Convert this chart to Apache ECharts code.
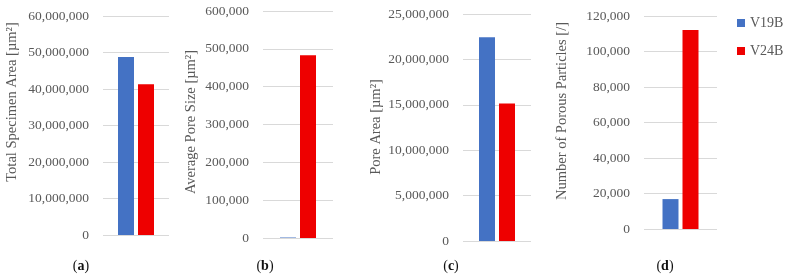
<!DOCTYPE html>
<html>
<head>
<meta charset="utf-8">
<script src="https://cdn.jsdelivr.net/npm/echarts@6/dist/echarts.min.js"></script>
<style>
  html, body { margin: 0; padding: 0; background: #fff; }
  #chart { width: 787px; height: 275px; }
</style>
</head>
<body>
<div id="chart"></div>
<script>
const seriesNames = ["V19B", "V24B"];
const colors = ["#4472C4", "#EE0000"];

const totalSpecimenArea = [48800000, 41300000];
const averagePoreSize = [1320, 483000];
const poreArea = [22450000, 15150000];
const porousParticles = [16850, 112100];

const axisTitles = [
  "Total Specimen Area [µm²]",
  "Average Pore Size [µm²]",
  "Pore Area [µm²]",
  "Number of Porous Particles [/]",
];
const panelLabels = ["a", "b", "c", "d"];
const axisMax = [60000000, 600000, 25000000, 120000];
const axisStep = [10000000, 100000, 5000000, 20000];

const panels = [totalSpecimenArea, averagePoreSize, poreArea, porousParticles];

// plot boxes
const grids = [
  { left: 103, top: 16, width: 66, height: 219 },
  { left: 263, top: 11, width: 70, height: 227 },
  { left: 463, top: 14, width: 68, height: 227 },
  { left: 644, top: 16, width: 73, height: 213 },
];
const titlePos = [[12, 102], [191, 122], [376, 127], [562, 111]];
const labelPos = [81, 265, 451, 665];

const font = "Liberation Serif";
const grey = "#595959";

const chart = echarts.init(document.getElementById("chart"));

const series = [];
panels.forEach((vals, i) => {
  seriesNames.forEach((name, j) => {
    series.push({
      name,
      type: "bar",
      xAxisIndex: i,
      yAxisIndex: i,
      data: [vals[j]],
      barWidth: 16,
      barGap: "25%",
      itemStyle: { color: colors[j] },
      animation: false,
    });
  });
});

const graphic = [];
axisTitles.forEach((t, i) => {
  graphic.push({
    type: "text",
    x: titlePos[i][0],
    y: titlePos[i][1],
    rotation: Math.PI / 2,
    style: {
      text: t,
      fill: grey,
      font: `14.5px "${font}"`,
      align: "center",
      verticalAlign: "middle",
      textAlign: "center",
      textVerticalAlign: "middle",
    },
  });
  graphic.push({
    type: "text",
    x: labelPos[i],
    y: 266,
    style: {
      text: `(${"{b|" + panelLabels[i] + "}"})`,
      fill: "#111",
      font: `14px "${font}"`,
      rich: { b: { fontWeight: "bold", fontSize: 14, fontFamily: font, fill: "#111" } },
      align: "center",
      verticalAlign: "middle",
      textAlign: "center",
      textVerticalAlign: "middle",
    },
  });
});

chart.setOption({
  animation: false,
  textStyle: { fontFamily: font },
  grid: grids,
  legend: {
    data: seriesNames,
    orient: "vertical",
    left: 735,
    top: 14,
    itemWidth: 8,
    itemHeight: 8,
    itemGap: 14,
    icon: "rect",
    padding: 2,
    textStyle: { color: grey, fontSize: 14, fontFamily: font },
  },
  xAxis: grids.map((g, i) => ({
    type: "category",
    gridIndex: i,
    data: [""],
    axisLine: { show: false },
    axisTick: { show: false },
    axisLabel: { show: false },
  })),
  yAxis: grids.map((g, i) => ({
    type: "value",
    gridIndex: i,
    min: 0,
    max: axisMax[i],
    interval: axisStep[i],
    axisLine: { show: false },
    axisTick: { show: false },
    splitLine: { lineStyle: { color: "#d9d9d9", width: 1 } },
    axisLabel: {
      color: grey,
      fontSize: 13.5,
      fontFamily: font,
      margin: 14,
      formatter: (v) => v.toLocaleString("en-US"),
    },
  })),
  series,
  graphic,
});
</script>
</body>
</html>
